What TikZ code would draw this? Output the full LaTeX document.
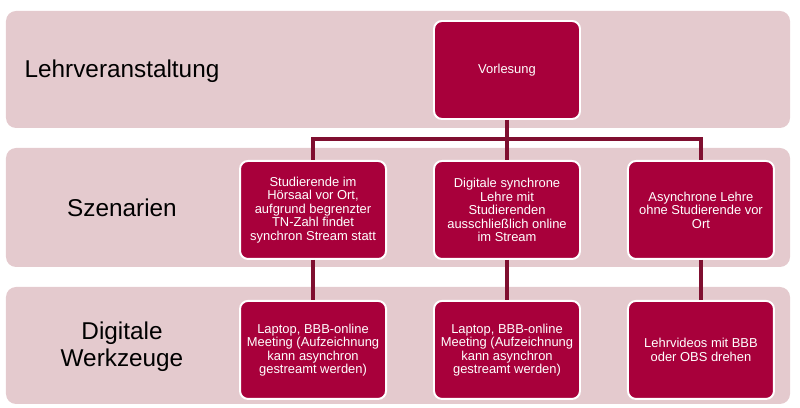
\documentclass[tikz,border=0pt]{standalone}
\usepackage{fontspec}
\setmainfont{Liberation Sans}
\usetikzlibrary{positioning}
\definecolor{bandrose}{HTML}{E4CACE}
\definecolor{boxred}{HTML}{A8003B}
\definecolor{linkred}{HTML}{7F0F30}

\begin{document}
\begin{tikzpicture}[
    band/.style={fill=bandrose, rounded corners=0.25cm},
    box/.style={draw=white, line width=1.4pt, fill=boxred, rounded corners=0.2cm,
                minimum width=3.65cm, minimum height=2.45cm, align=center,
                text=white, font=\fontsize{9.2}{9.6}\selectfont},
    level/.style={font=\fontsize{17.3}{19}\selectfont, align=center},
    link/.style={draw=linkred, line width=2.6pt},
    node distance=1.0cm and 1.15cm,
  ]
  \useasboundingbox (0,0) rectangle (20,-10.2);

  % background bands
  \fill[band] (0.15,-0.275) rectangle (19.75,-3.2);
  \fill[band] (0.15,-3.7) rectangle (19.75,-6.675);
  \fill[band] (0.15,-7.175) rectangle (19.75,-10.1);

  \node[level] (lv) at (3.05,-1.775) {Lehrveranstaltung};
  \node[level] (sz) at (3.05,-5.2) {Szenarien};
  \node[level] (wz) at (3.05,-8.675) {Digitale\\Werkzeuge};

  \node[box] (vorl) at (12.675,-1.75) {Vorlesung};

  \node[box, below=of vorl] (scB)
    {Digitale synchrone\\Lehre mit\\Studierenden\\ausschließlich online\\im Stream};
  \node[box, left=of scB] (scA)
    {Studierende im\\Hörsaal vor Ort,\\aufgrund begrenzter\\TN-Zahl findet\\synchron Stream statt};
  \node[box, right=of scB] (scC)
    {Asynchrone Lehre\\ohne Studierende vor\\Ort};

  \node[box, below=of scA] (wzA)
    {Laptop, BBB-online\\Meeting (Aufzeichnung\\kann asynchron\\gestreamt werden)};
  \node[box, below=of scB] (wzB)
    {Laptop, BBB-online\\Meeting (Aufzeichnung\\kann asynchron\\gestreamt werden)};
  \node[box, below=of scC] (wzC)
    {Lehrvideos mit BBB\\oder OBS drehen};

  \draw[link] (vorl.south) -- ++(0,-0.475) coordinate (bus);
  \draw[link] (bus) -- (scB.north);
  \draw[link] (bus) -| (scA.north);
  \draw[link] (bus) -| (scC.north);

  \draw[link] (scA.south) -- (wzA.north);
  \draw[link] (scB.south) -- (wzB.north);
  \draw[link] (scC.south) -- (wzC.north);

\end{tikzpicture}
\end{document}
